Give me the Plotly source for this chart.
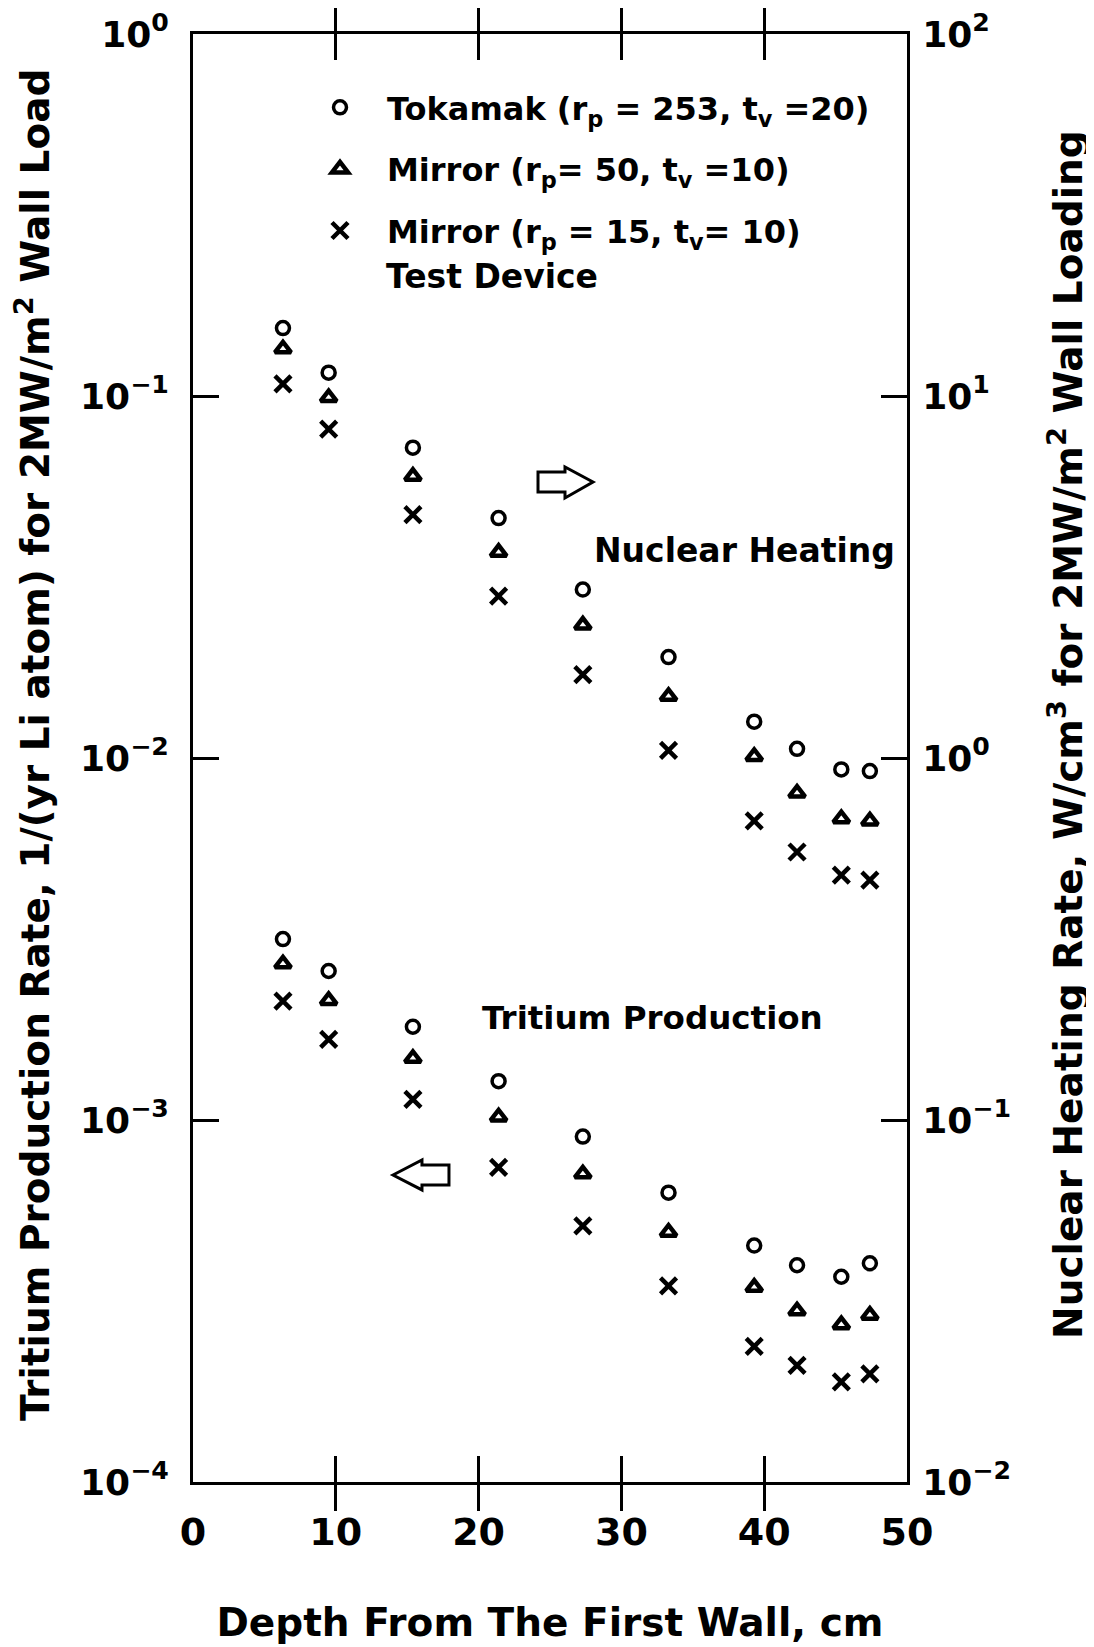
import plotly.graph_objects as go

# ---------------- data ----------------
depth_cm = [6.3, 9.5, 15.4, 21.4, 27.3, 33.3, 39.3, 42.3, 45.4, 47.4]

# Nuclear heating rate, W/cm^3 for 2 MW/m^2 wall loading (right axis)
heat_tokamak = [15.4, 11.6, 7.2, 4.6, 2.92, 1.90, 1.26, 1.06, 0.93, 0.92]
heat_mirror50 = [13.5, 9.9, 6.0, 3.7, 2.33, 1.48, 1.01, 0.80, 0.68, 0.67]
heat_mirror15 = [10.8, 8.1, 4.7, 2.8, 1.70, 1.05, 0.67, 0.55, 0.475, 0.46]

# Tritium production rate, 1/(yr Li atom) for 2 MW/m^2 wall load (left axis)
trit_tokamak = [3.16e-3, 2.58e-3, 1.81e-3, 1.28e-3, 9.0e-4, 6.3e-4, 4.5e-4, 3.97e-4, 3.69e-4, 4.02e-4]
trit_mirror50 = [2.70e-3, 2.14e-3, 1.48e-3, 1.02e-3, 7.1e-4, 4.9e-4, 3.45e-4, 2.97e-4, 2.72e-4, 2.89e-4]
trit_mirror15 = [2.13e-3, 1.67e-3, 1.14e-3, 7.4e-4, 5.1e-4, 3.48e-4, 2.37e-4, 2.10e-4, 1.89e-4, 1.99e-4]

series_names = [
    "Tokamak (r<sub>p</sub> = 253, t<sub>v</sub> =20)",
    "Mirror (r<sub>p</sub>= 50, t<sub>v</sub> =10)",
    "Mirror (r<sub>p</sub> = 15, t<sub>v</sub>= 10)",
]

x_ticks = [0, 10, 20, 30, 40, 50]
x_ticktext = ["0", "10", "20", "30", "40", "50"]
left_ticks = [1e-4, 1e-3, 1e-2, 1e-1, 1]
left_ticktext = ["10<sup>−4</sup>", "10<sup>−3</sup>", "10<sup>−2</sup>", "10<sup>−1</sup>", "10<sup>0</sup>"]
right_ticks = [1e-2, 1e-1, 1, 10, 100]
right_ticktext = ["10<sup>−2</sup>", "10<sup>−1</sup>", "10<sup>0</sup>", "10<sup>1</sup>", "10<sup>2</sup>"]

# ---------------- style ----------------
FONT = "DejaVu Sans"
BLACK = "black"
PAGE_W, PAGE_H = 1094, 1647
OFF = 8  # default page body margin
W, H = PAGE_W - OFF, PAGE_H - OFF
# plot frame in page pixels
FX0, FX1, FY0, FY1 = 193, 907, 34, 1482
ML, MR, MT, MB = FX0 - OFF, (PAGE_W - FX1), FY0 - OFF, (PAGE_H - FY1)
PW, PH = FX1 - FX0, FY1 - FY0

markers = [
    dict(symbol="circle-open", size=13, line=dict(width=3.5, color=BLACK), color=BLACK),
    dict(symbol="triangle-up-open", size=14, line=dict(width=4.5, color=BLACK), color=BLACK),
    dict(symbol="x-thin-open", size=16, line=dict(width=4.5, color=BLACK), color=BLACK),
]

fig = go.Figure()
heat = [heat_tokamak, heat_mirror50, heat_mirror15]
trit = [trit_tokamak, trit_mirror50, trit_mirror15]
for i in range(3):
    fig.add_trace(go.Scatter(
        x=depth_cm, y=heat[i], mode="markers", name=series_names[i],
        marker=markers[i], yaxis="y2", legendgroup=f"g{i}", showlegend=True))
for i in range(3):
    fig.add_trace(go.Scatter(
        x=depth_cm, y=trit[i], mode="markers", name=series_names[i],
        marker=markers[i], yaxis="y", legendgroup=f"g{i}", showlegend=False))


def px(xp, yp):
    """page pixel -> paper coordinate"""
    return (xp - FX0) / PW, (FY1 - yp) / PH


def path(points):
    pts = [px(a, b) for a, b in points]
    return "M " + " L ".join(f"{a:.4f},{b:.4f}" for a, b in pts) + " Z"


right_arrow = [(538, 472), (565, 472), (565, 467), (593, 482), (565, 498), (565, 492), (538, 492)]
left_arrow = [(393, 1175), (422, 1160), (422, 1165), (449, 1165), (449, 1185), (422, 1185), (422, 1190)]
shapes = [
    dict(type="path", xref="paper", yref="paper", path=path(right_arrow),
         line=dict(color=BLACK, width=3), fillcolor="white"),
    dict(type="path", xref="paper", yref="paper", path=path(left_arrow),
         line=dict(color=BLACK, width=3), fillcolor="white"),
]


def bold(size):
    return dict(family=FONT, size=size, color=BLACK, weight="bold")


tx, ty = px(384, 276)
nx, ny = px(897, 550)
tpx, tpy = px(480, 1018)
lyx, lyy = px(33, 745)
ryx, ryy = px(1066, 735)
annotations = [
    dict(text="Test Device", x=tx, y=ty, xref="paper", yref="paper", xanchor="left",
         yanchor="middle", showarrow=False, font=bold(33)),
    dict(text="Nuclear Heating", x=nx, y=ny, xref="paper", yref="paper", xanchor="right",
         yanchor="middle", showarrow=False, font=bold(33)),
    dict(text="Tritium Production", x=tpx, y=tpy, xref="paper", yref="paper", xanchor="left",
         yanchor="middle", showarrow=False, font=bold(32.5)),
    dict(text="Tritium Production Rate, 1/(yr Li atom) for 2MW/m<sup>2</sup> Wall Load",
         x=lyx, y=lyy, xref="paper", yref="paper", xanchor="center", yanchor="middle",
         textangle=-90, showarrow=False, font=bold(39)),
    dict(text="Nuclear Heating Rate, W/cm<sup>3</sup> for 2MW/m<sup>2</sup> Wall Loading",
         x=ryx, y=ryy, xref="paper", yref="paper", xanchor="center", yanchor="middle",
         textangle=-90, showarrow=False, font=bold(39)),
]

lx, ly = px(293, 80)
common = dict(ticks="inside", ticklen=26, tickwidth=2.5, tickcolor=BLACK, showline=True,
              linewidth=3, linecolor=BLACK, showgrid=False, zeroline=False,
              automargin=False)
fig.update_layout(
    width=W, height=H,
    margin=dict(l=ML, r=MR, t=MT, b=MB, pad=0, autoexpand=False),
    paper_bgcolor="white", plot_bgcolor="white",
    showlegend=True,
    legend=dict(x=lx, y=ly, xanchor="left", yanchor="top", bgcolor="rgba(0,0,0,0)",
                font=bold(32), tracegroupgap=17, itemwidth=84),
    xaxis=dict(range=[0, 50], tickvals=x_ticks, ticktext=x_ticktext, mirror="allticks",
               ticklabelstandoff=14, tickfont=bold(38),
               title=dict(text="Depth From The First Wall, cm", font=bold(39), standoff=57),
               **common),
    yaxis=dict(type="log", range=[-4, 0], tickvals=left_ticks, ticktext=left_ticktext,
               ticklabelstandoff=14, tickfont=bold(36), **common),
    yaxis2=dict(type="log", range=[-2, 2], overlaying="y", side="right", tickvals=right_ticks,
                ticktext=right_ticktext, ticklabelstandoff=5, tickfont=bold(36), **common),
    shapes=shapes,
    annotations=annotations,
)

fig.write_html("out.html")
